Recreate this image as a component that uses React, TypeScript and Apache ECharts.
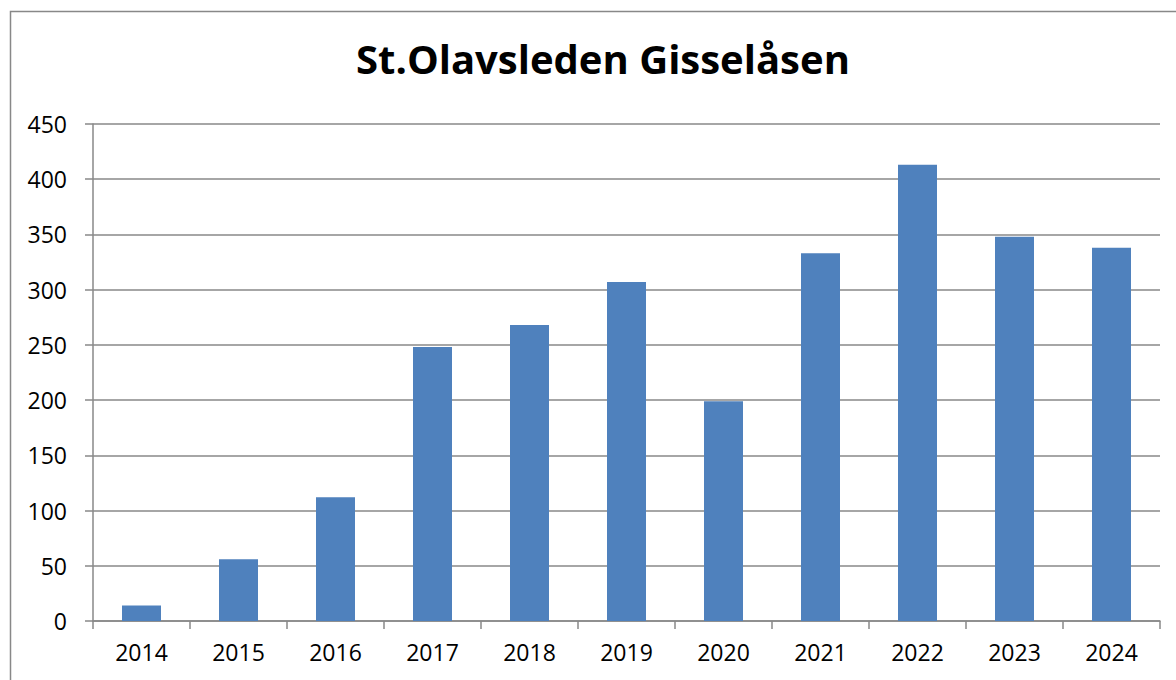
import React, { useEffect, useRef } from "react";
import * as echarts from "echarts";

const titleText = "St.Olavsleden Gisselåsen";
const years = ["2014", "2015", "2016", "2017", "2018", "2019", "2020", "2021", "2022", "2023", "2024"];
const visitors = [14, 56, 112, 248, 268, 307, 199, 333, 413, 348, 338];
const yMin = 0;
const yMax = 450;
const yStep = 50;

export default function App() {
  const ref = useRef<HTMLDivElement>(null);
  useEffect(() => {
    if (!ref.current) return;
    const chart = echarts.init(ref.current, null, { renderer: "svg" });
    const font = "'Open Sans', 'Noto Sans', sans-serif";
    const gray = "#888888";
    chart.setOption({
      animation: false,
      backgroundColor: "#ffffff",
      title: {
        text: titleText,
        left: 598,
        top: 33,
        textAlign: "center",
        textStyle: { fontFamily: font, fontSize: 40, fontWeight: "bold", color: "#000" },
      },
      graphic: [
        {
          type: "rect",
          shape: { x: 10.5, y: 11.5, width: 1300, height: 800 },
          style: { fill: "none", stroke: gray, lineWidth: 1.5 },
          silent: true,
        },
      ],
      grid: { left: 93, right: 16, top: 124, bottom: 59, containLabel: false },
      xAxis: {
        type: "category",
        data: years,
        boundaryGap: true,
        axisLine: { show: true, lineStyle: { color: gray, width: 1.5 } },
        axisTick: { show: true, length: 8, alignWithLabel: false, lineStyle: { color: gray, width: 1.5 } },
        axisLabel: { fontFamily: font, fontSize: 23, color: "#000", margin: 19, interval: 0 },
        splitLine: { show: false },
      },
      yAxis: {
        type: "value",
        min: yMin,
        max: yMax,
        interval: yStep,
        axisLine: { show: true, lineStyle: { color: gray, width: 1.5 } },
        axisTick: { show: true, length: 8, lineStyle: { color: gray, width: 1.5 } },
        axisLabel: { fontFamily: font, fontSize: 23, color: "#000", margin: 26 },
        splitLine: { show: true, lineStyle: { color: gray, width: 1.5 } },
      },
      series: [
        {
          type: "bar",
          data: visitors,
          barWidth: 39,
          itemStyle: { color: "#4F81BD" },
        },
      ],
    });
    return () => chart.dispose();
  }, []);
  return (
    <div
      ref={ref}
      style={{ position: "absolute", left: 0, top: 0, width: 1176, height: 680 }}
    />
  );
}
